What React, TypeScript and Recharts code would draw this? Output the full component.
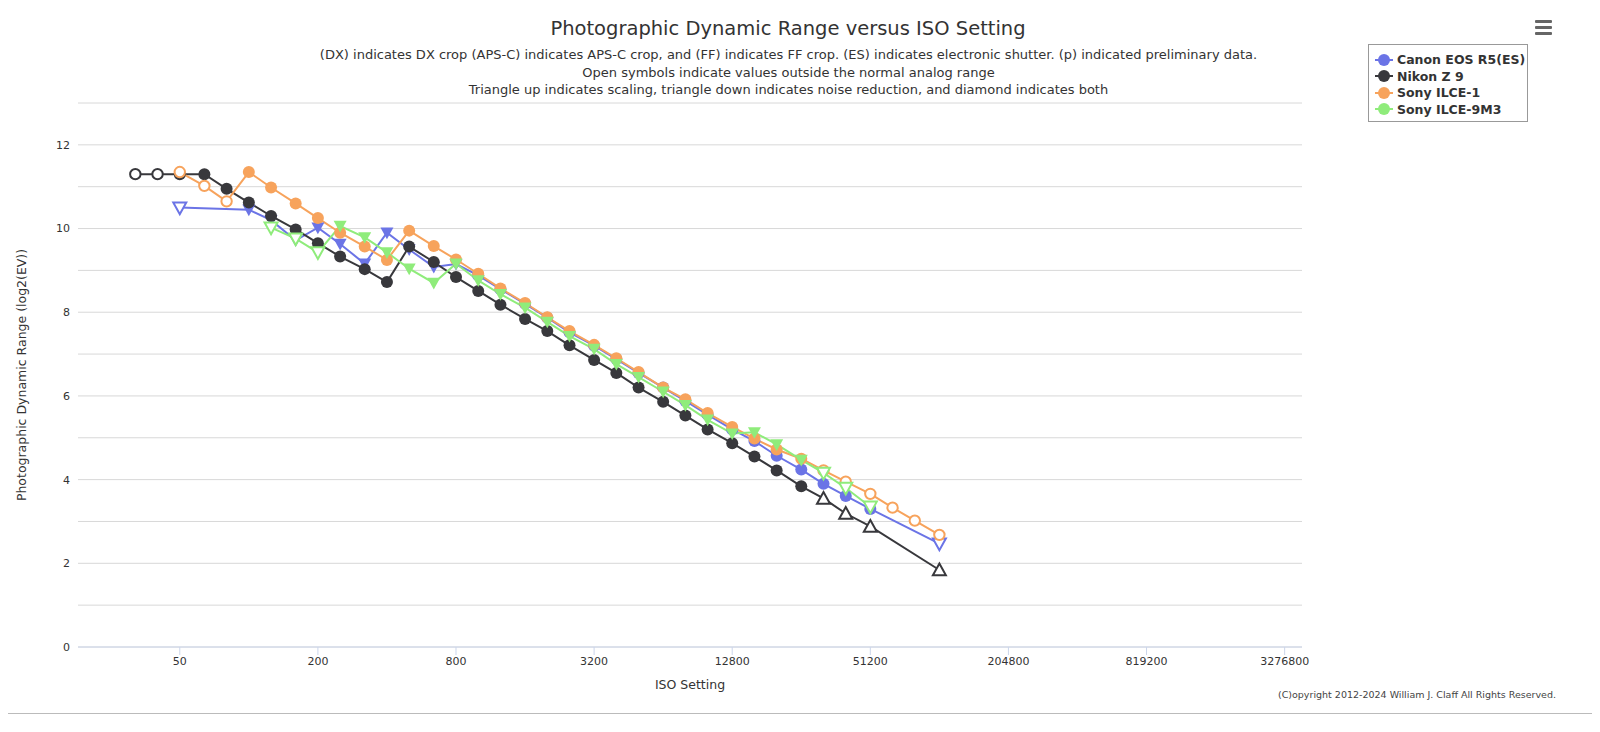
import React from 'react';
import { LineChart, Line, XAxis, YAxis, CartesianGrid } from 'recharts';

const isoTicks = [50, 200, 800, 3200, 12800, 51200, 204800, 819200, 3276800];
const yTicks = [0, 1, 2, 3, 4, 5, 6, 7, 8, 9, 10, 11, 12, 13];

// markers: o open circle, c filled circle, v filled tri-down, w open tri-down, u open tri-up
const canonIso = [50, 100, 125, 160, 200, 250, 320, 400, 500, 640, 800, 1000, 1250, 1600, 2000, 2500, 3200, 4000, 5000, 6400, 8000, 10000, 12800, 16000, 20000, 25600, 32000, 40000, 51200, 102400];
const canonDr = [10.5, 10.45, 10.2, 9.72, 10.02, 9.63, 9.16, 9.9, 9.5, 9.08, 9.15, 8.88, 8.55, 8.2, 7.87, 7.52, 7.2, 6.88, 6.55, 6.2, 5.88, 5.55, 5.2, 4.92, 4.57, 4.24, 3.9, 3.61, 3.3, 2.47];
const canonMk = ['w', 'v', 'v', 'v', 'v', 'v', 'v', 'v', 'v', 'v', 'v', 'c', 'c', 'c', 'c', 'c', 'c', 'c', 'c', 'c', 'c', 'c', 'c', 'c', 'c', 'c', 'c', 'c', 'c', 'w'];

const nikonIso = [32, 40, 50, 64, 80, 100, 125, 160, 200, 250, 320, 400, 500, 640, 800, 1000, 1250, 1600, 2000, 2500, 3200, 4000, 5000, 6400, 8000, 10000, 12800, 16000, 20000, 25600, 32000, 40000, 51200, 102400];
const nikonDr = [11.3, 11.3, 11.3, 11.3, 10.95, 10.62, 10.3, 9.98, 9.65, 9.33, 9.03, 8.72, 9.57, 9.2, 8.84, 8.51, 8.18, 7.84, 7.55, 7.21, 6.86, 6.55, 6.2, 5.86, 5.53, 5.2, 4.87, 4.55, 4.22, 3.84, 3.55, 3.19, 2.88, 1.84];
const nikonMk = ['o', 'o', 'c', 'c', 'c', 'c', 'c', 'c', 'c', 'c', 'c', 'c', 'c', 'c', 'c', 'c', 'c', 'c', 'c', 'c', 'c', 'c', 'c', 'c', 'c', 'c', 'c', 'c', 'c', 'c', 'u', 'u', 'u', 'u'];

const sony1Iso = [50, 64, 80, 100, 125, 160, 200, 250, 320, 400, 500, 640, 800, 1000, 1250, 1600, 2000, 2500, 3200, 4000, 5000, 6400, 8000, 10000, 12800, 16000, 20000, 25600, 32000, 40000, 51200, 64000, 80000, 102400];
const sony1Dr = [11.35, 11.02, 10.65, 11.35, 10.98, 10.6, 10.25, 9.9, 9.57, 9.25, 9.95, 9.58, 9.26, 8.92, 8.57, 8.22, 7.88, 7.55, 7.22, 6.9, 6.57, 6.2, 5.92, 5.59, 5.26, 4.98, 4.72, 4.5, 4.22, 3.95, 3.66, 3.33, 3.02, 2.68];
const sony1Mk = ['o', 'o', 'o', 'c', 'c', 'c', 'c', 'c', 'c', 'c', 'c', 'c', 'c', 'c', 'c', 'c', 'c', 'c', 'c', 'c', 'c', 'c', 'c', 'c', 'c', 'c', 'c', 'c', 'o', 'o', 'o', 'o', 'o', 'o'];

const sony9Iso = [125, 160, 200, 250, 320, 400, 500, 640, 800, 1000, 1250, 1600, 2000, 2500, 3200, 4000, 5000, 6400, 8000, 10000, 12800, 16000, 20000, 25600, 32000, 40000, 51200];
const sony9Dr = [10.02, 9.76, 9.43, 10.06, 9.79, 9.43, 9.04, 8.7, 9.16, 8.76, 8.43, 8.11, 7.77, 7.43, 7.12, 6.76, 6.45, 6.1, 5.78, 5.43, 5.1, 5.13, 4.84, 4.47, 4.16, 3.8, 3.35];
const sony9Mk = ['w', 'w', 'w', 'v', 'v', 'v', 'v', 'v', 'v', 'v', 'v', 'v', 'v', 'v', 'v', 'v', 'v', 'v', 'v', 'v', 'v', 'v', 'v', 'v', 'w', 'w', 'w'];

const build = (iso: number[], dr: number[], mk: string[]) => iso.map((x, i) => ({ iso: x, dr: dr[i], m: mk[i] }));

const series = [
  { name: 'Canon EOS R5(ES)', color: '#6b74e6', data: build(canonIso, canonDr, canonMk) },
  { name: 'Nikon Z 9', color: '#38383c', data: build(nikonIso, nikonDr, nikonMk) },
  { name: 'Sony ILCE-1', color: '#f7a35c', data: build(sony1Iso, sony1Dr, sony1Mk) },
  { name: 'Sony ILCE-9M3', color: '#8fec7b', data: build(sony9Iso, sony9Dr, sony9Mk) },
];

const makeDot = (color: string) => (props: any) => {
  const { cx, cy, payload, index } = props;
  if (cx == null || cy == null) return <g key={index} />;
  const m = payload.m;
  const r = 6;
  if (m === 'c') return <circle key={index} cx={cx} cy={cy} r={r} fill={color} stroke="none" />;
  if (m === 'o') return <circle key={index} cx={cx} cy={cy} r={5.2} fill="#fff" stroke={color} strokeWidth={2} />;
  const s = 6.5;
  if (m === 'u') {
    const d = `M${cx},${cy - s} L${cx + s},${cy + s * 0.8} L${cx - s},${cy + s * 0.8} Z`;
    return <path key={index} d={d} fill="#fff" stroke={color} strokeWidth={2} />;
  }
  const d = `M${cx - s},${cy - s * 0.8} L${cx + s},${cy - s * 0.8} L${cx},${cy + s} Z`;
  return <path key={index} d={d} fill={m === 'v' ? color : '#fff'} stroke={color} strokeWidth={m === 'v' ? 0 : 2} />;
};

const font = '"DejaVu Sans", Verdana, sans-serif';

export default function App() {
  return (
    <div style={{ position: 'relative', width: 1584, height: 716, fontFamily: font, color: '#333' }}>
      <div style={{ position: 'absolute', left: 0, width: 1560, top: 9, textAlign: 'center', fontSize: 19.5 }}>
        Photographic Dynamic Range versus ISO Setting
      </div>
      <div style={{ position: 'absolute', left: 0, width: 1561, top: 38, textAlign: 'center', fontSize: 13, lineHeight: '17.5px' }}>
        <div>(DX) indicates DX crop (APS-C) indicates APS-C crop, and (FF) indicates FF crop. (ES) indicates electronic shutter. (p) indicated preliminary data.</div>
        <div>Open symbols indicate values outside the normal analog range</div>
        <div>Triangle up indicates scaling, triangle down indicates noise reduction, and diamond indicates both</div>
      </div>
      <div style={{ position: 'absolute', left: 1527, top: 12 }}>
        {[0, 6, 12].map((t) => (
          <div key={t} style={{ position: 'absolute', top: t, width: 17, height: 3, background: '#666', borderRadius: 1 }} />
        ))}
      </div>
      <div style={{ position: 'absolute', left: 1360, top: 36, width: 158, height: 76, border: '1px solid #999', background: '#fff', fontSize: 12.5, fontWeight: 'bold' }}>
        {series.map((s, i) => (
          <div key={s.name} style={{ position: 'absolute', left: 6, top: 7 + i * 16.5, display: 'flex', alignItems: 'center' }}>
            <svg width={18} height={14}>
              <line x1={0} y1={7} x2={18} y2={7} stroke={s.color} strokeWidth={2} />
              <circle cx={9} cy={7} r={6} fill={s.color} />
            </svg>
            <span style={{ marginLeft: 4, color: '#333' }}>{s.name}</span>
          </div>
        ))}
      </div>
      <div style={{ position: 'absolute', top: 0, left: 0 }}>
        <LineChart width={1584} height={690} margin={{ top: 95, right: 290, left: 0, bottom: 21 }}>
          <CartesianGrid vertical={false} stroke="#d8d8d8" />
          <XAxis
            type="number"
            dataKey="iso"
            scale="log"
            domain={[18, 3900000]}
            allowDataOverflow
            ticks={isoTicks}
            tick={{ fontSize: 11, fill: '#333', fontFamily: font }}
            stroke="#ccd6eb"
            tickSize={8}
            label={{ value: 'ISO Setting', position: 'insideBottom', offset: -12, fontSize: 12.5, fill: '#333', fontFamily: font }}
          />
          <YAxis
            type="number"
            domain={[0, 13]}
            ticks={yTicks}
            tickFormatter={(v: number) => (v % 2 === 0 && v <= 12 ? String(v) : '')}
            axisLine={false}
            tickLine={false}
            width={70}
            tick={{ fontSize: 11, fill: '#333', fontFamily: font }}
            label={{ value: 'Photographic Dynamic Range (log2(EV))', angle: -90, position: 'insideLeft', offset: 14, fontSize: 12.5, fill: '#333', fontFamily: font, style: { textAnchor: 'middle' } }}
          />
          {series.map((s) => (
            <Line
              key={s.name}
              data={s.data}
              dataKey="dr"
              name={s.name}
              stroke={s.color}
              strokeWidth={2}
              dot={makeDot(s.color)}
              activeDot={false}
              isAnimationActive={false}
            />
          ))}
        </LineChart>
      </div>
      <div style={{ position: 'absolute', right: 36, top: 681, fontSize: 9.5, color: '#444' }}>
        (C)opyright 2012-2024 William J. Claff All Rights Reserved.
      </div>
      <div style={{ position: 'absolute', left: -8, width: 1600, top: 705, height: 1, background: '#bbb' }} />
    </div>
  );
}
